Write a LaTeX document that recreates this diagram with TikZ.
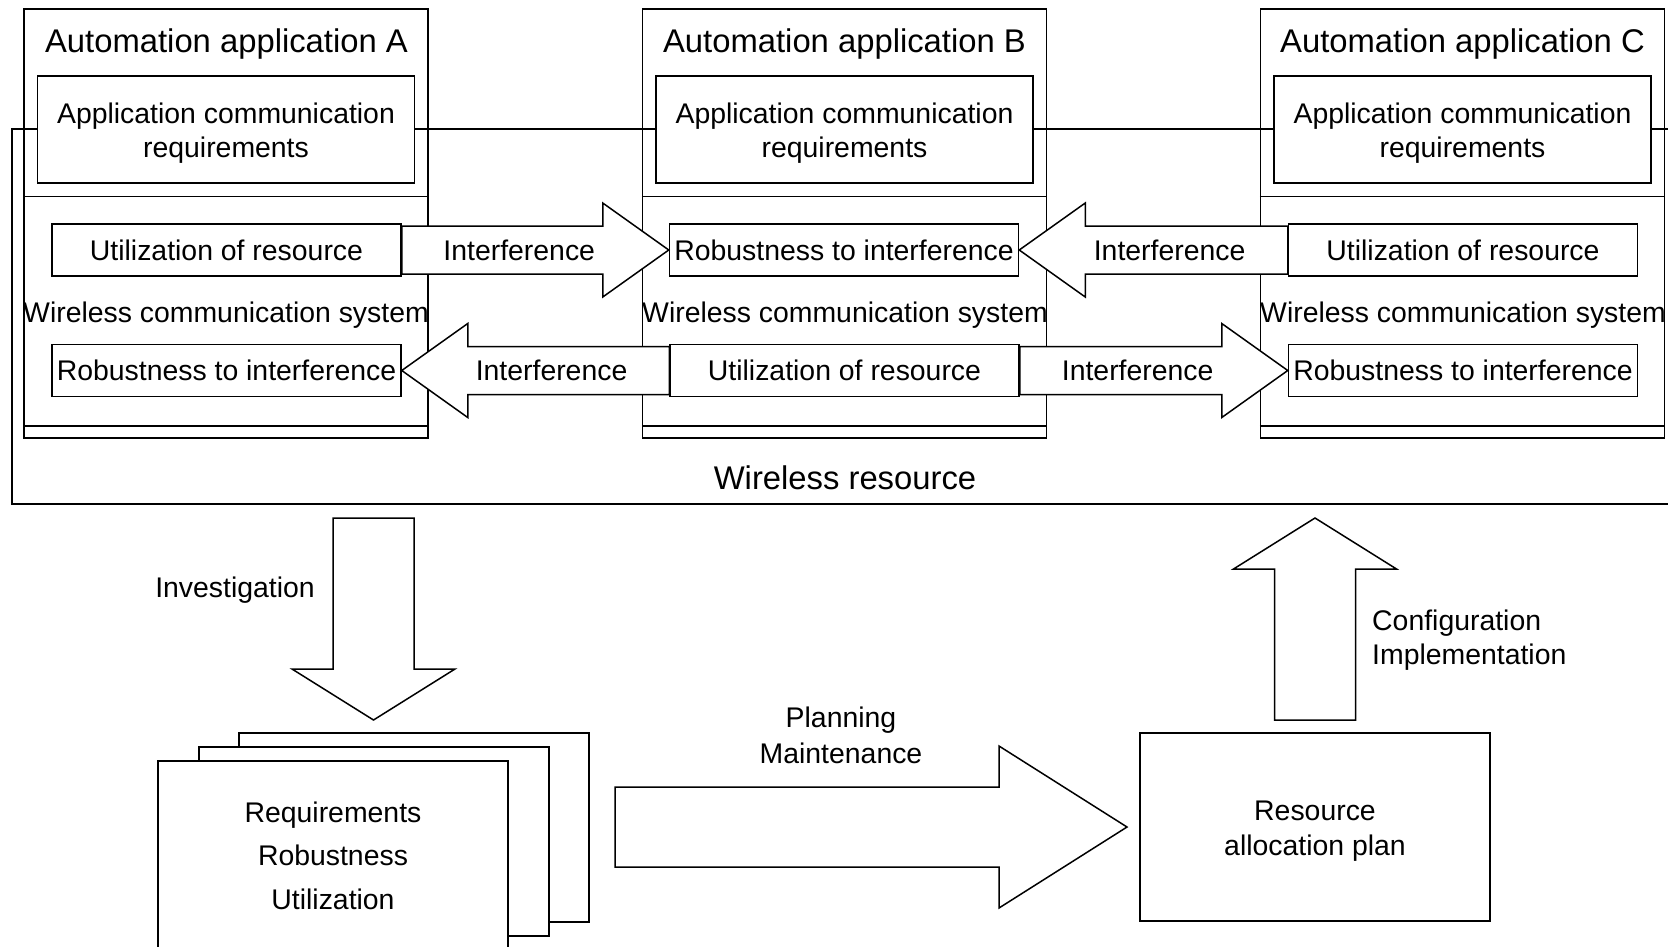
\documentclass[tikz,border=0pt]{standalone}
\usepackage{fontspec}
\setmainfont{Liberation Sans}
\usepackage{tikz}
\usetikzlibrary{calc}
\newcommand*{\bodyfont}{\fontsize{28.4}{35}\selectfont}
\newcommand*{\titlefont}{\fontsize{32.8}{38}\selectfont}
% block arrows: from, to, head length, half shaft, half head
\newcommand*{\harrow}[5]{%
  \draw[blockarr] ($(#1)+(0,-#4)$) -- ($(#2)+({-(#3)},-#4)$) -- ($(#2)+({-(#3)},-#5)$)
    -- (#2) -- ($(#2)+({-(#3)},#5)$) -- ($(#2)+({-(#3)},#4)$) -- ($(#1)+(0,#4)$) -- cycle;}
\newcommand*{\varrow}[5]{%
  \draw[blockarr] ($(#1)+(-#4,0)$) -- ($(#2)+(-#4,{-(#3)})$) -- ($(#2)+(-#5,{-(#3)})$)
    -- (#2) -- ($(#2)+(#5,{-(#3)})$) -- ($(#2)+(#4,{-(#3)})$) -- ($(#1)+(#4,0)$) -- cycle;}
\tikzset{
  box/.style={draw, line width=1.5pt, inner sep=0pt, align=center},
  appbox/.style={box, minimum width=404pt, minimum height=429pt},
  reqbox/.style={box, fill=white, minimum width=377pt, minimum height=107pt},
  itembox/.style={box, fill=white, minimum width=349pt, minimum height=52pt},
  docbox/.style={box, fill=white, minimum width=350pt, minimum height=189pt},
  txt/.style={inner sep=0pt, align=center},
  twolines/.style={txt, font=\fontsize{28.4}{34}\selectfont},
  sepline/.style={line width=1.5pt},
  blockarr/.style={draw, fill=white, line width=1.5pt, line join=miter},
}

\begin{document}
\begin{tikzpicture}[x=1pt, y=-1pt, font=\bodyfont]
  \useasboundingbox (0,0) rectangle (1668,946);
  \node[box, line width=2pt, minimum width=1668pt, minimum height=375pt] (res) at (846,316.5) {};
  \node[txt, font=\titlefont] (reslabel) at (845,478) {Wireless resource};

  \node[appbox] (appA) at (226,223.5) {};
  \node[appbox] (appB) at (844.5,223.5) {};
  \node[appbox] (appC) at (1462.5,223.5) {};
  \draw[sepline] ($(appA.north west)+(0,188)$) -- ($(appA.north east)+(0,188)$);
  \draw[sepline] ($(appB.north west)+(0,188)$) -- ($(appB.north east)+(0,188)$);
  \draw[sepline] ($(appC.north west)+(0,188)$) -- ($(appC.north east)+(0,188)$);
  \draw[sepline] ($(appA.south west)+(0,-13)$) -- ($(appA.south east)+(0,-13)$);
  \draw[sepline] ($(appB.south west)+(0,-13)$) -- ($(appB.south east)+(0,-13)$);
  \draw[sepline] ($(appC.south west)+(0,-13)$) -- ($(appC.south east)+(0,-13)$);

  \node[txt, font=\titlefont, anchor=base] (titleA) at (226.5,52) {Automation application A};
  \node[txt, font=\titlefont, anchor=base] (titleB) at (844.5,52) {Automation application B};
  \node[txt, font=\titlefont, anchor=base] (titleC) at (1462.5,52) {Automation application C};

  \node[reqbox] (reqA) at (226,129.5) {};
  \node[reqbox] (reqB) at (844.5,129.5) {};
  \node[reqbox] (reqC) at (1462.5,129.5) {};
  \node[twolines] (reqAtext) at ($(reqA)+(0,3.5)$) {Application communication\\requirements};
  \node[twolines] (reqBtext) at ($(reqB)+(0,3.5)$) {Application communication\\requirements};
  \node[twolines] (reqCtext) at ($(reqC)+(0,3.5)$) {Application communication\\requirements};

  \node[itembox] (utilA) at (226.5,250) {Utilization of resource};
  \node[itembox] (robA) at (226.5,370.5) {Robustness to interference};
  \node[itembox] (robB) at (844,250) {Robustness to interference};
  \node[itembox] (utilB) at (844.5,370.5) {Utilization of resource};
  \node[itembox] (utilC) at (1463,250) {Utilization of resource};
  \node[itembox] (robC) at (1463,370.5) {Robustness to interference};

  \node[txt, anchor=base] (wcsA) at (226,322) {Wireless communication system};
  \node[txt, anchor=base] (wcsB) at (845,322) {Wireless communication system};
  \node[txt, anchor=base] (wcsC) at (1463,322) {Wireless communication system};

  \harrow{utilA.east}{robB.west}{66}{24}{47}
  \harrow{utilB.west}{robA.east}{-66}{24}{47}
  \harrow{utilC.west}{robB.east}{-66}{24}{47}
  \harrow{utilB.east}{robC.west}{66}{24}{47}
  \node[txt] (intAB) at ($(utilA.east)!0.44!(robB.west)$) {Interference};
  \node[txt] (intBA) at ($(utilB.west)!0.44!(robA.east)$) {Interference};
  \node[txt] (intCB) at ($(utilC.west)!0.44!(robB.east)$) {Interference};
  \node[txt] (intBC) at ($(utilB.east)!0.44!(robC.west)$) {Interference};

  \node[docbox] (docBack) at (414,827.5) {};
  \node[docbox] (docMid) at (374,841.5) {};
  \node[docbox, font=\fontsize{28.4}{43.5}\selectfont] (docFront) at (333,855.5)
    {Requirements\\Robustness\\Utilization};
  \node[box, minimum width=350pt, minimum height=188pt] (plan) at (1315,827) {};
  \node[twolines, font=\fontsize{28.4}{35}\selectfont] (planText) at ($(plan)+(0,4)$)
    {Resource\\allocation plan};

  \coordinate (invTail) at (373.5,518);
  \coordinate (invTip) at (373.5,720);
  \coordinate (mntTail) at (615,827);
  \coordinate (mntTip) at (1127,827);
  \coordinate (cfgTail) at (1315,720);
  \coordinate (cfgTip) at (1315,518);
  \varrow{invTail}{invTip}{51}{40.5}{81.5}
  \harrow{mntTail}{mntTip}{128}{40}{81}
  \varrow{cfgTail}{cfgTip}{-51}{40.5}{81.5}

  \node[txt, anchor=base] (invLabel) at (235,597) {Investigation};
  \node[txt, font=\fontsize{28.4}{36}\selectfont] (mntLabel) at (841,735) {Planning\\Maintenance};
  \node[txt, anchor=west, align=left, font=\fontsize{28.4}{34}\selectfont] (cfgLabel) at (1372,639.7)
    {Configuration\\Implementation};
\end{tikzpicture}
\end{document}
